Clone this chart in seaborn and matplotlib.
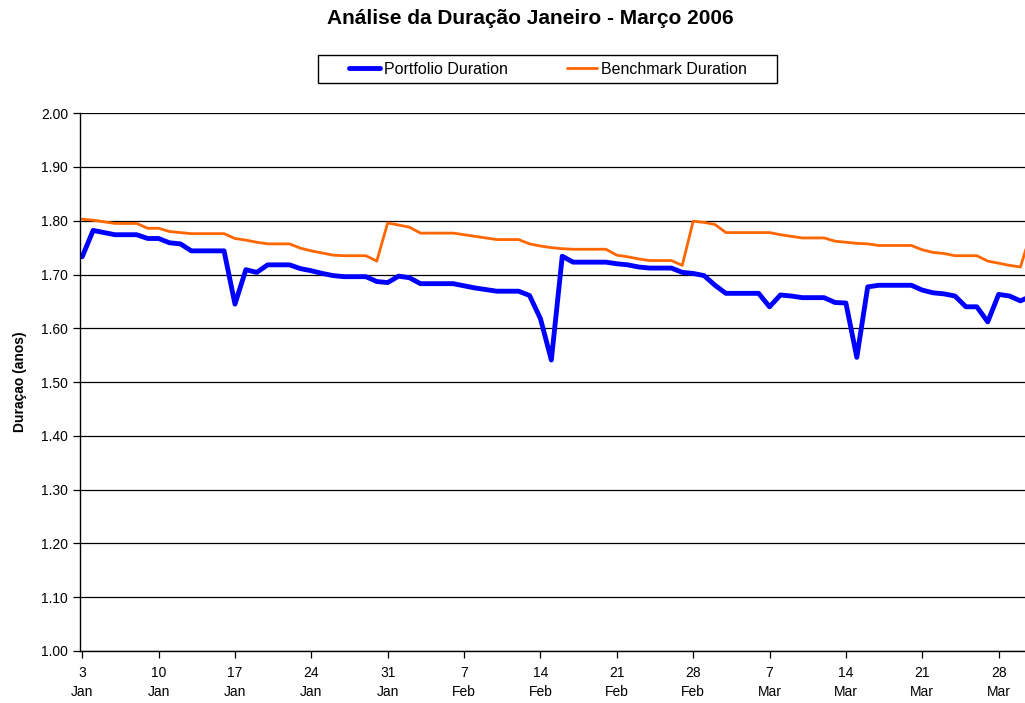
import pandas as pd
import numpy as np
import matplotlib
matplotlib.use("Agg")
import matplotlib.pyplot as plt
from matplotlib.patches import Rectangle
import seaborn as sns

# ---------------- data ----------------
start_date = "2006-01-03"
end_date = "2006-03-31"

portfolio = [1.733, 1.782, 1.778, 1.774, 1.774, 1.774, 1.767, 1.767, 1.759, 1.757,
             1.744, 1.744, 1.744, 1.744, 1.645, 1.709, 1.704, 1.718, 1.718, 1.718,
             1.711, 1.707, 1.702, 1.698, 1.696, 1.696, 1.696, 1.687, 1.685, 1.697,
             1.694, 1.683, 1.683, 1.683, 1.683, 1.679, 1.675, 1.672, 1.669, 1.669,
             1.669, 1.661, 1.618, 1.541, 1.734, 1.723, 1.723, 1.723, 1.723, 1.720,
             1.718, 1.714, 1.712, 1.712, 1.712, 1.704, 1.702, 1.698, 1.680, 1.665,
             1.665, 1.665, 1.665, 1.640, 1.662, 1.660, 1.657, 1.657, 1.657, 1.648,
             1.647, 1.546, 1.677, 1.680, 1.680, 1.680, 1.680, 1.671, 1.666, 1.664,
             1.660, 1.640, 1.640, 1.612, 1.663, 1.660, 1.651, 1.660]

benchmark = [1.803, 1.801, 1.798, 1.795, 1.795, 1.795, 1.786, 1.786, 1.780, 1.778,
             1.776, 1.776, 1.776, 1.776, 1.767, 1.764, 1.760, 1.757, 1.757, 1.757,
             1.749, 1.744, 1.740, 1.736, 1.735, 1.735, 1.735, 1.725, 1.796, 1.792,
             1.788, 1.777, 1.777, 1.777, 1.777, 1.774, 1.771, 1.768, 1.765, 1.765,
             1.765, 1.757, 1.753, 1.750, 1.748, 1.747, 1.747, 1.747, 1.747, 1.736,
             1.733, 1.729, 1.726, 1.726, 1.726, 1.717, 1.799, 1.797, 1.793, 1.778,
             1.778, 1.778, 1.778, 1.778, 1.774, 1.771, 1.768, 1.768, 1.768, 1.762,
             1.760, 1.758, 1.757, 1.754, 1.754, 1.754, 1.754, 1.746, 1.741, 1.739,
             1.735, 1.735, 1.735, 1.725, 1.721, 1.717, 1.714, 1.780]

tick_dates = ["2006-01-03", "2006-01-10", "2006-01-17", "2006-01-24", "2006-01-31",
              "2006-02-07", "2006-02-14", "2006-02-21", "2006-02-28", "2006-03-07",
              "2006-03-14", "2006-03-21", "2006-03-28"]
tick_labels = ["3\nJan", "10\nJan", "17\nJan", "24\nJan", "31\nJan", "7\nFeb",
               "14\nFeb", "21\nFeb", "28\nFeb", "7\nMar", "14\nMar", "21\nMar", "28\nMar"]
y_ticks = [1.00, 1.10, 1.20, 1.30, 1.40, 1.50, 1.60, 1.70, 1.80, 1.90, 2.00]

dates = pd.date_range(start_date, end_date, freq="D")
df = pd.DataFrame({"Data": dates,
                   "Portfolio Duration": portfolio,
                   "Benchmark Duration": benchmark})

# ---------------- plot ----------------
sns.set_style("white")
plt.rcParams["font.family"] = ["Liberation Sans", "DejaVu Sans"]
plt.rcParams["text.color"] = "black"
plt.rcParams["axes.labelcolor"] = "black"
plt.rcParams["xtick.color"] = "black"
plt.rcParams["ytick.color"] = "black"

W, H = 1025, 703
fig = plt.figure(figsize=(W / 100, H / 100), dpi=100)
ax = fig.add_axes([0.078, 0.074, 0.922, 0.765])

sns.lineplot(data=df, x="Data", y="Portfolio Duration", ax=ax, color="#0000FF",
             linewidth=3.5, label="Portfolio Duration")
sns.lineplot(data=df, x="Data", y="Benchmark Duration", ax=ax, color="#FF6600",
             linewidth=2, label="Benchmark Duration")

ax.set_ylim(1.0, 2.0)
ax.set_yticks(y_ticks)
ax.set_yticklabels([f"{v:.2f}" for v in y_ticks], fontsize=10)
ax.yaxis.grid(True, color="black", linewidth=0.9)
ax.set_axisbelow(True)

t0 = pd.Timestamp(start_date)
ax.set_xlim(t0 - pd.Timedelta(hours=5), t0 + pd.Timedelta(hours=int(86.45 * 24)))
ax.set_xticks(pd.to_datetime(tick_dates))
ax.set_xticklabels(tick_labels, fontsize=10, linespacing=1.45)

ax.tick_params(axis="both", direction="out", length=5, width=0.9, color="black",
               left=True, bottom=True)
ax.tick_params(axis="x", pad=6)
for side in ["top", "right"]:
    ax.spines[side].set_visible(False)
for side in ["left", "bottom"]:
    ax.spines[side].set_color("black")
    ax.spines[side].set_linewidth(1)

ax.set_xlabel("")
ax.set_ylabel("Duraçao (anos)", fontsize=10, fontweight="bold", labelpad=10)

fig.suptitle("Análise da Duração Janeiro - Março 2006", x=0.517, y=1 - 19 / H,
             va="center", fontsize=15, fontweight="bold")

# legend box like the original (Excel style, wide frame)
leg = ax.legend(loc="center", bbox_to_anchor=(548 / W, 1 - 69 / H),
                bbox_transform=fig.transFigure, ncol=2, fontsize=11.5,
                frameon=False, handlelength=1.9, handletextpad=0.25,
                columnspacing=3.7)
fig.patches.append(Rectangle((318 / W, 1 - 83 / H), 459 / W, 28 / H,
                             transform=fig.transFigure, fill=False,
                             edgecolor="black", linewidth=1))

fig.savefig("out.png", dpi=100)
